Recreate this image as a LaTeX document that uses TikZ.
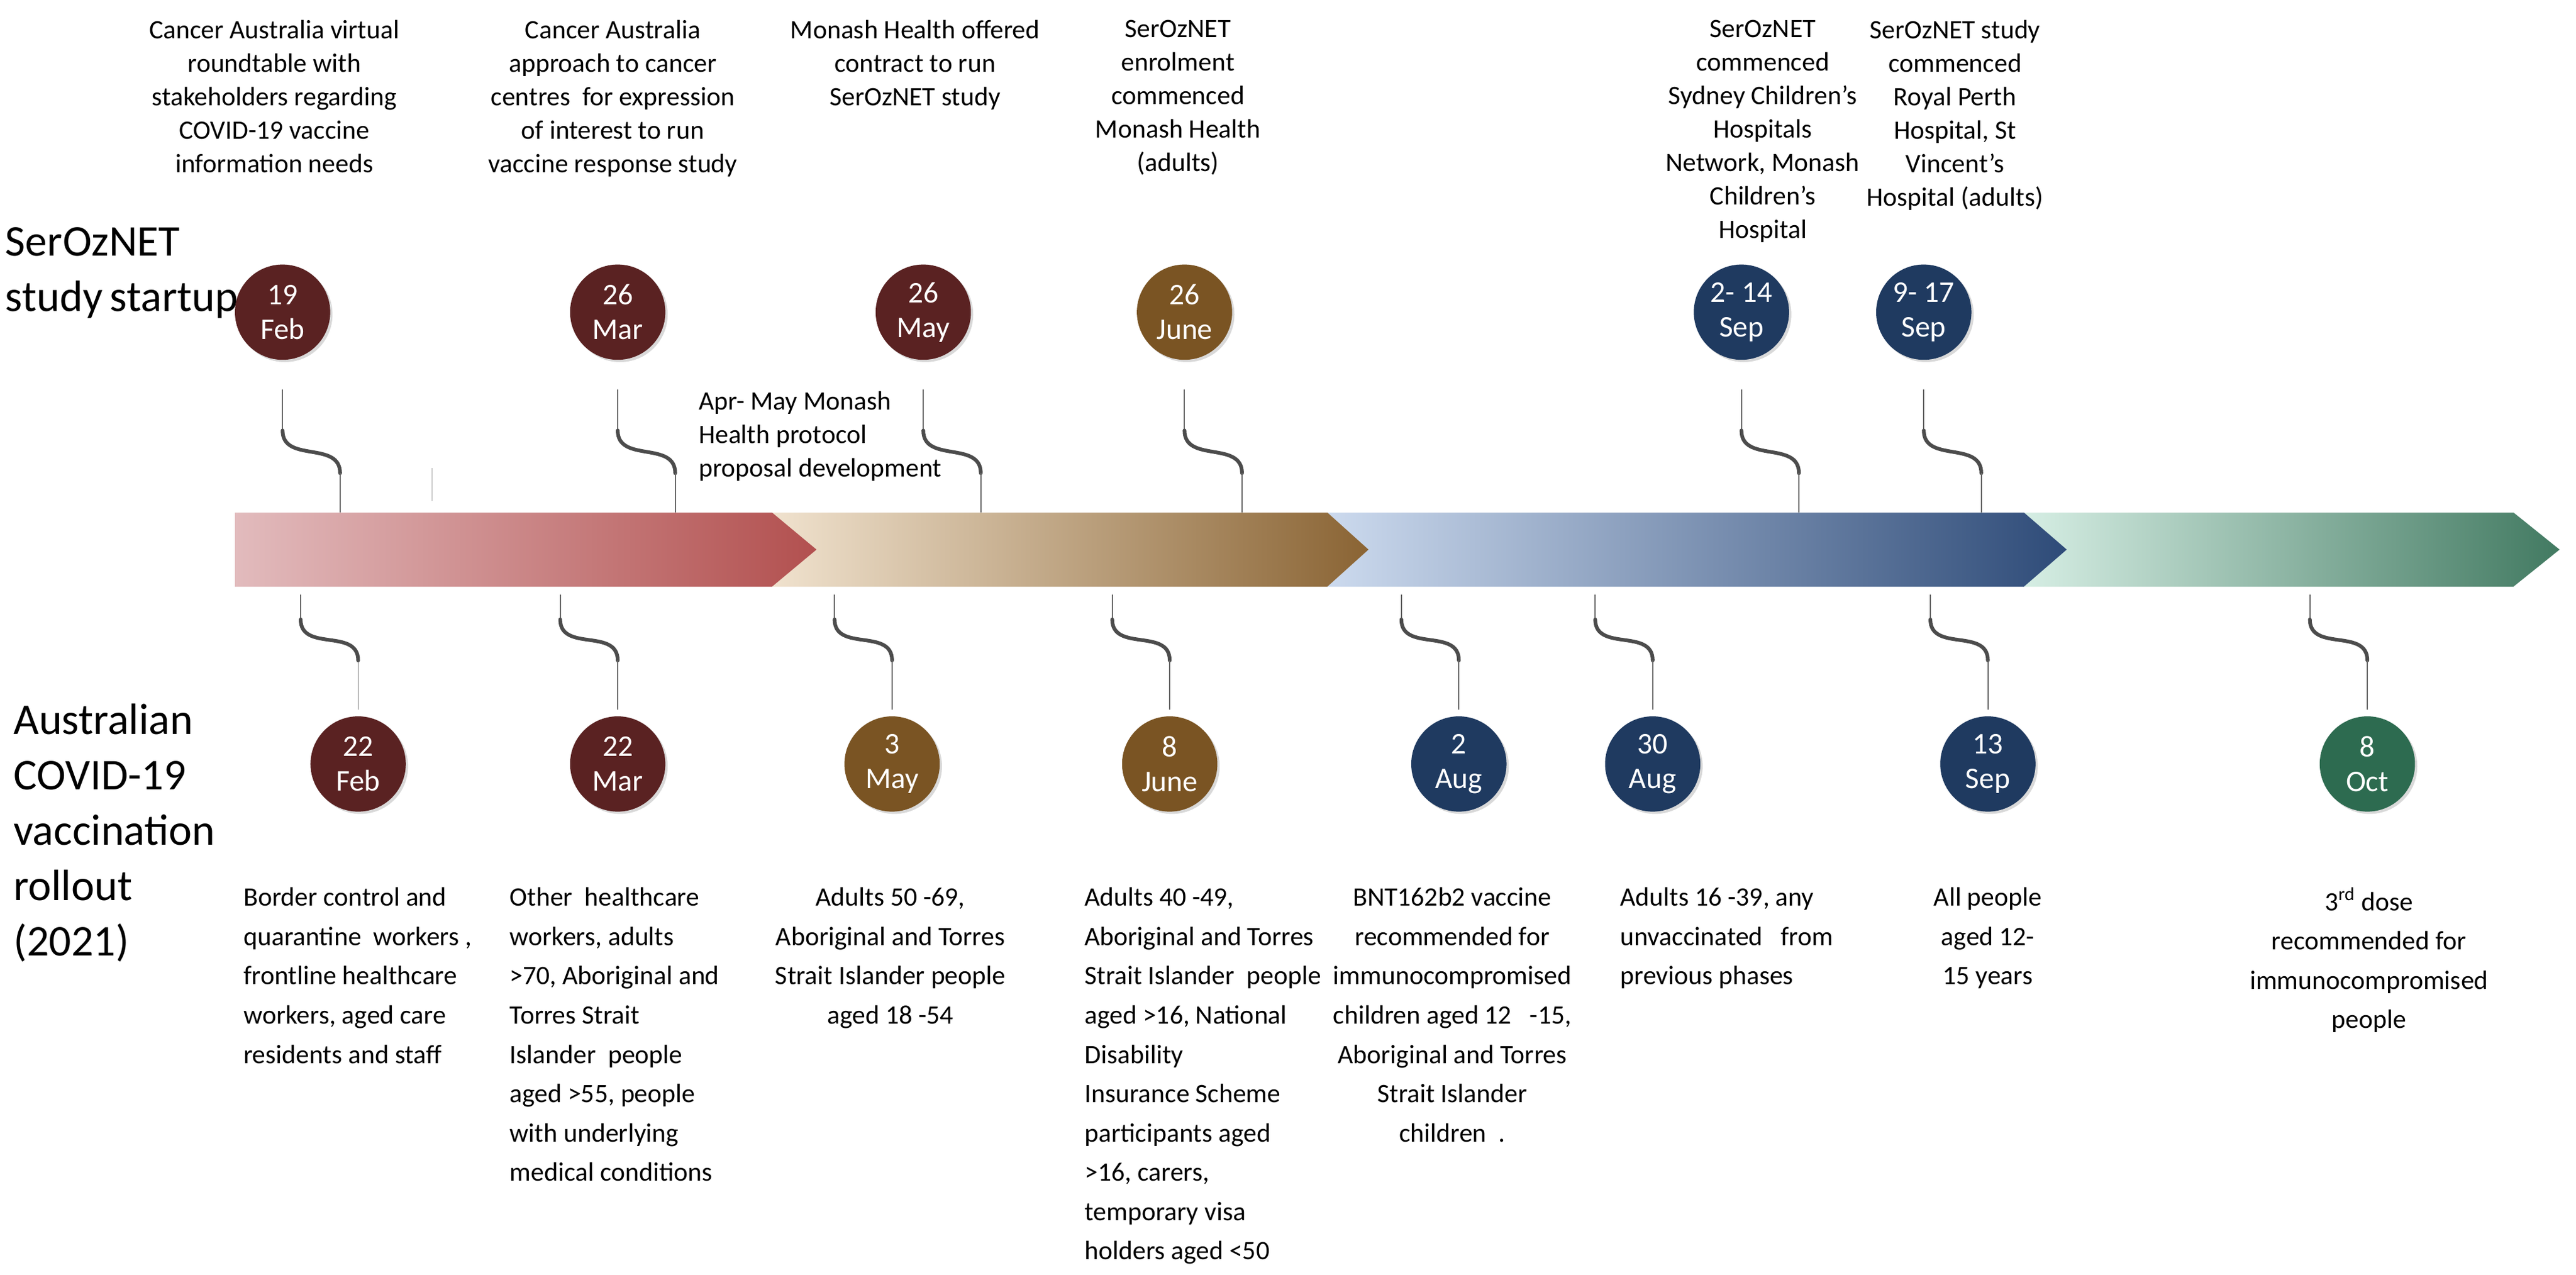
\documentclass[tikz,border=0pt]{standalone}
\usepackage{fontspec}
\setmainfont{Carlito}
\usetikzlibrary{shadows}
\definecolor{maroon}{HTML}{5A2222}
\definecolor{brownc}{HTML}{7A5423}
\definecolor{navy}{HTML}{1F3A60}
\definecolor{greenc}{HTML}{2D6B50}
\begin{document}
\begin{tikzpicture}[x=0.025cm,y=-0.025cm,
  dot/.style={circle,minimum size=58*0.025cm,inner sep=0pt,text=white,align=center,font=\fontsize{13}{15}\selectfont,drop shadow={opacity=0.3,shadow xshift=1pt,shadow yshift=-1pt}},
  lbl/.style={align=center,font=\fontsize{11.5}{17}\selectfont,inner sep=0pt,anchor=north},
  tlbl/.style={lbl,font=\fontsize{11.5}{14.5}\selectfont},
  thin/.style={draw=gray!80!black,line width=0.5pt},
  wig/.style={draw=black!70,line width=1.6pt,line cap=round},
  side/.style={align=left,anchor=north west,inner sep=0pt,font=\fontsize{19}{24}\selectfont}]
\useasboundingbox (0,0) rectangle (1568,776);
% bar
\shade[left color={rgb,255:red,214;green,238;blue,228},right color=greenc!90] (1232,312)--(1530,312)--(1558,334.5)--(1530,357)--(1232,357)--(1258,334.5)--cycle;
\shade[left color={rgb,255:red,204;green,218;blue,238},right color={rgb,255:red,46;green,75;blue,120}] (808,312)--(1232,312)--(1258,334.5)--(1232,357)--(808,357)--(833,334.5)--cycle;
\shade[left color={rgb,255:red,240;green,226;blue,206},right color={rgb,255:red,138;green,100;blue,52}] (470,312)--(808,312)--(833,334.5)--(808,357)--(470,357)--(497,334.5)--cycle;
\shade[left color={rgb,255:red,226;green,187;blue,189},right color={rgb,255:red,178;green,80;blue,79}] (143,312)--(470,312)--(497,334.5)--(470,357)--(143,357)--cycle;
\draw[thin,draw=gray!40] (263,285)--(263,305);
% side labels
\node[side] (s1) at (3,138) {SerOzNET\\study\,startup};
\node[side] (s2) at (8,428) {Australian\\COVID-19\\vaccination\\rollout\\(2021)};
% top circles
\foreach \n/\x/\c/\t in {t1/172/maroon/19\\Feb, t2/376/maroon/26\\Mar, t3/562/maroon/26\\May, t4/721/brownc/26\\June, t5/1060/navy/2- 14\\Sep, t6/1171/navy/9- 17\\Sep}{
  \node[dot,fill=\c] (\n) at (\x,190) {\t};
  \coordinate (\n a) at (\x,237); \coordinate (\n b) at (\x,262);
  \coordinate (\n c) at (\x+35,288); \coordinate (\n d) at (\x+35,312);
  \draw[thin] (\n a)--(\n b);
  \draw[wig] (\n b) .. controls ([yshift=-20*0.025cm]\n b) and ([yshift=20*0.025cm]\n c) .. (\n c);
  \draw[thin] (\n c)--(\n d);
}
% bottom circles
\foreach \n/\x/\c/\t in {b1/218/maroon/22\\Feb, b2/376/maroon/22\\Mar, b3/543/brownc/3\\May, b4/712/brownc/8\\June, b5/888/navy/2\\Aug, b6/1006/navy/30\\Aug, b7/1210/navy/13\\Sep, b8/1441/greenc/8\\Oct}{
  \node[dot,fill=\c] (\n) at (\x,465) {\t};
  \coordinate (\n a) at (\x-35,362); \coordinate (\n b) at (\x-35,377);
  \coordinate (\n c) at (\x,402); \coordinate (\n d) at (\x,432);
  \draw[thin] (\n a)--(\n b);
  \draw[wig] (\n b) .. controls ([yshift=-20*0.025cm]\n b) and ([yshift=20*0.025cm]\n c) .. (\n c);
  \draw[thin] (\n c)--(\n d);
}
% top texts
\node[tlbl] (x1) at (167,12) {Cancer Australia virtual\\roundtable with\\stakeholders regarding\\COVID-19 vaccine\\information needs};
\node[tlbl] (x2) at (373,12) {Cancer Australia\\approach to cancer\\centres\ \ for expression\\of interest to run\\vaccine response study};
\node[tlbl] (x3) at (557,12) {Monash Health offered\\contract to run\\SerOzNET study};
\node[tlbl] (x4) at (717,12) {SerOzNET\\enrolment\\commenced\\Monash Health\\(adults)};
\node[tlbl] (x5) at (1073,12) {SerOzNET\\commenced\\Sydney Children’s\\Hospitals\\Network, Monash\\Children’s\\Hospital};
\node[tlbl] (x6) at (1190,12) {SerOzNET study\\commenced\\Royal Perth\\Hospital, St\\Vincent’s\\Hospital (adults)};
\node[tlbl,align=left,anchor=north west] (x7) at (425,238) {Apr- May Monash\\Health protocol\\proposal development};
% bottom texts
\node[lbl,align=left,anchor=north west] (y1) at (148,540) {Border control and\\quarantine\ \ workers ,\\frontline healthcare\\workers, aged care\\residents and staff};
\node[lbl,align=left,anchor=north west] (y2) at (310,540) {Other\ \ healthcare\\workers, adults\\>70, Aboriginal and\\Torres Strait\\Islander\ \ people\\aged >55, people\\with underlying\\medical conditions};
\node[lbl] (y3) at (542,540) {Adults 50\ -69,\\Aboriginal and Torres\\Strait Islander people\\aged 18\ -54};
\node[lbl,align=left,anchor=north west] (y4) at (660,540) {Adults 40\ -49,\\Aboriginal and Torres\\Strait Islander\ \ people\\aged >16, National\\Disability\\Insurance Scheme\\participants aged\\>16, carers,\\temporary visa\\holders aged <50};
\node[lbl] (y5) at (884,540) {BNT162b2 vaccine\\recommended for\\immunocompromised\\children aged 12\ \ \ -15,\\Aboriginal and Torres\\Strait Islander\\children\ \ .};
\node[lbl,align=left,anchor=north west] (y6) at (986,540) {Adults 16\ -39, any\\unvaccinated\ \ \ from\\previous phases};
\node[lbl] (y7) at (1210,540) {All people\\aged 12-\\15 years};
\node[lbl] (y8) at (1442,540) {3\textsuperscript{rd} dose\\recommended for\\immunocompromised\\people};
\end{tikzpicture}
\end{document}
